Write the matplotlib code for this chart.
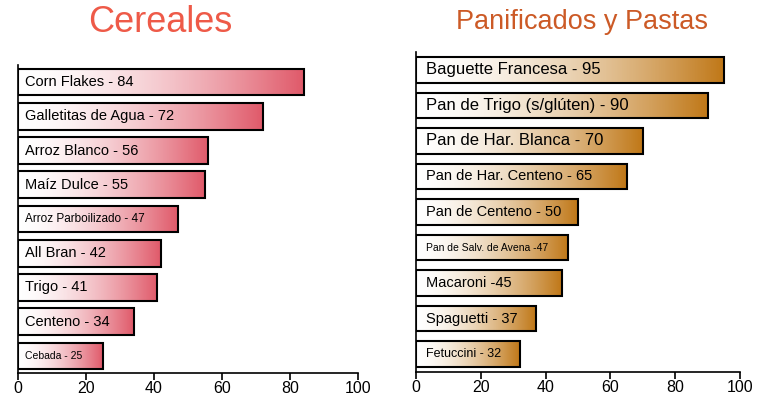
import numpy as np
import matplotlib.pyplot as plt
from matplotlib.colors import LinearSegmentedColormap

plt.rcParams['font.family'] = 'Liberation Sans'

cereales = ['Corn Flakes - 84', 'Galletitas de Agua - 72', 'Arroz Blanco - 56',
            'Maíz Dulce - 55', 'Arroz Parboilizado - 47', 'All Bran - 42',
            'Trigo - 41', 'Centeno - 34', 'Cebada - 25']
cereales_val = [84, 72, 56, 55, 47, 42, 41, 34, 25]
cereales_fs = [10.5, 10.5, 10.5, 10.5, 8.5, 10.5, 10.5, 10.5, 7.5]

panes = ['Baguette Francesa - 95', 'Pan de Trigo (s/glúten) - 90',
         'Pan de Har. Blanca - 70', 'Pan de Har. Centeno - 65',
         'Pan de Centeno - 50', 'Pan de Salv. de Avena -47', 'Macaroni -45',
         'Spaguetti - 37', 'Fetuccini - 32']
panes_val = [95, 90, 70, 65, 50, 47, 45, 37, 32]
panes_fs = [12, 12, 12, 10.5, 10.5, 7.5, 10.5, 10.5, 9]

ticks = [0, 20, 40, 60, 80, 100]


def panel(ax, labels, vals, sizes, color, h, txt_x):
    cmap = LinearSegmentedColormap.from_list('g', ['white', color])
    grad = (np.linspace(0, 1, 256) ** 1.6).reshape(1, -1)
    n = len(vals)
    for i, (lab, v, fs) in enumerate(zip(labels, vals, sizes)):
        y = n - 1 - i
        ax.imshow(grad, cmap=cmap, aspect='auto', vmin=0, vmax=1,
                  extent=[0, v, y - h / 2, y + h / 2], zorder=1)
        ax.add_patch(plt.Rectangle((0, y - h / 2), v, h, fill=False,
                                   edgecolor='black', lw=1.5, zorder=2))
        ax.text(txt_x, y, lab, va='center', ha='left', fontsize=fs, zorder=3)
    ax.set_xlim(0, 100)
    ax.set_ylim(-0.5, n - 0.5)
    ax.set_xticks(ticks)
    ax.set_yticks([])
    ax.spines['top'].set_visible(False)
    ax.spines['right'].set_visible(False)
    ax.spines['left'].set_linewidth(1.2)
    ax.spines['bottom'].set_linewidth(1.2)
    ax.tick_params(axis='x', labelsize=11.5, length=5, width=1.2, pad=1)


fig = plt.figure(figsize=(7.64, 4.0), dpi=100)
ax1 = fig.add_axes([0.0236, 0.0675, 0.445, 0.77])
ax2 = fig.add_axes([0.5445, 0.07, 0.424, 0.80])

panel(ax1, cereales, cereales_val, cereales_fs, '#e05a6a', 0.78, 2)
panel(ax2, panes, panes_val, panes_fs, '#c07818', 0.72, 3)

fig.text(0.21, 0.945, 'Cereales', ha='center', va='center', fontsize=26,
         color='#ee5a48')
fig.text(0.762, 0.945, 'Panificados y Pastas', ha='center', va='center',
         fontsize=19.5, color='#cc5a26')

plt.savefig('out.png', dpi=100)
